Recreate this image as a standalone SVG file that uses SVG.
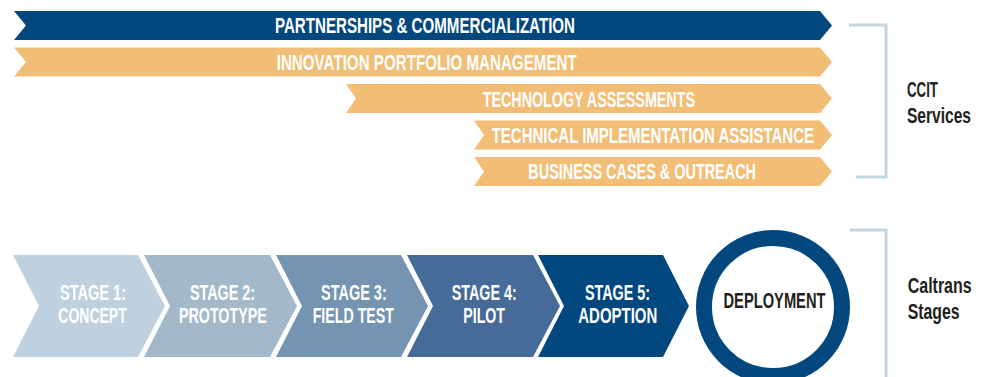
<svg xmlns="http://www.w3.org/2000/svg" width="989" height="377" viewBox="0 0 989 377">
<style>
.bt{font-family:"Liberation Sans",Arial,sans-serif;font-weight:bold;font-size:22px;fill:#ffffff;}
.lb{font-family:"Liberation Sans",Arial,sans-serif;font-weight:bold;font-size:22px;fill:#231f20;}
.br{fill:none;stroke:#c5d6e3;stroke-width:3;}
.or{fill:#f2bd75;}
</style>
<rect width="989" height="377" fill="#ffffff"/>
<g id="services">
<g id="banner-partnerships">
<polygon points="14,11 820,11 832,25.5 820,40 14,40 26,25.5" fill="#03477f"/>
<text class="bt" x="275" y="33.3" textLength="300" lengthAdjust="spacingAndGlyphs">PARTNERSHIPS &amp; COMMERCIALIZATION</text>
</g>
<g id="banner-portfolio">
<polygon class="or" points="14,47.5 820,47.5 832,62 820,76.5 14,76.5 26,62"/>
<text class="bt" x="276.7" y="69.8" textLength="300" lengthAdjust="spacingAndGlyphs">INNOVATION PORTFOLIO MANAGEMENT</text>
</g>
<g id="banner-assessments">
<polygon class="or" points="346,84 820,84 832,98.5 820,113 346,113 356,98.5"/>
<text class="bt" x="482.7" y="106.5" textLength="212.3" lengthAdjust="spacingAndGlyphs">TECHNOLOGY ASSESSMENTS</text>
</g>
<g id="banner-implementation">
<polygon class="or" points="474,120.5 820,120.5 832,135 820,149.5 474,149.5 484,135"/>
<text class="bt" x="491.7" y="143.1" textLength="322.3" lengthAdjust="spacingAndGlyphs">TECHNICAL IMPLEMENTATION ASSISTANCE</text>
</g>
<g id="banner-business">
<polygon class="or" points="474,157 820,157 832,171.5 820,186 474,186 484,171.5"/>
<text class="bt" x="528.3" y="179" textLength="227.7" lengthAdjust="spacingAndGlyphs">BUSINESS CASES &amp; OUTREACH</text>
</g>
</g>
<g id="stages">
<g id="stage1">
<polygon points="13,255 138,255 165,306 138,357 13,357 39,306" fill="#bfd1de"/>
<text class="bt" x="60" y="300" textLength="66" lengthAdjust="spacingAndGlyphs">STAGE 1:</text>
<text class="bt" x="58.3" y="323.3" textLength="68.4" lengthAdjust="spacingAndGlyphs">CONCEPT</text>
</g>
<g id="stage2">
<polygon points="144,255 270,255 297,306 270,357 144,357 170,306" fill="#a3b9c9"/>
<text class="bt" x="190" y="300" textLength="65" lengthAdjust="spacingAndGlyphs">STAGE 2:</text>
<text class="bt" x="179" y="323.3" textLength="87.7" lengthAdjust="spacingAndGlyphs">PROTOTYPE</text>
</g>
<g id="stage3">
<polygon points="276,255 401,255 428,306 401,357 276,357 302,306" fill="#7594b1"/>
<text class="bt" x="321" y="300" textLength="65.7" lengthAdjust="spacingAndGlyphs">STAGE 3:</text>
<text class="bt" x="312.7" y="323.3" textLength="81.3" lengthAdjust="spacingAndGlyphs">FIELD TEST</text>
</g>
<g id="stage4">
<polygon points="407,255 533,255 560,306 533,357 407,357 433,306" fill="#476b98"/>
<text class="bt" x="451.7" y="300" textLength="65" lengthAdjust="spacingAndGlyphs">STAGE 4:</text>
<text class="bt" x="463.3" y="323.3" textLength="41.7" lengthAdjust="spacingAndGlyphs">PILOT</text>
</g>
<g id="stage5">
<polygon points="538,255 663,255 689,306 663,357 538,357 564,306" fill="#03477f"/>
<text class="bt" x="585" y="300" textLength="65" lengthAdjust="spacingAndGlyphs">STAGE 5:</text>
<text class="bt" x="578.3" y="323.3" textLength="79" lengthAdjust="spacingAndGlyphs">ADOPTION</text>
</g>
<g id="deployment">
<circle cx="773" cy="307" r="69" fill="#ffffff" stroke="#03477f" stroke-width="16"/>
<text class="lb" x="723.5" y="308.3" textLength="102" lengthAdjust="spacingAndGlyphs">DEPLOYMENT</text>
</g>
</g>
<g id="brackets">
<polyline class="br" points="849,25 886,25 886,177 856,177"/>
<polyline class="br" points="850,230 886,230 886,377"/>
</g>
<g id="labels">
<text class="lb" transform="translate(907,97.3) scale(0.75,1)" x="0" y="0" textLength="41.3" lengthAdjust="spacingAndGlyphs">CCIT</text>
<text class="lb" transform="translate(907,123) scale(0.75,1)" x="0" y="0" textLength="85.3" lengthAdjust="spacingAndGlyphs">Services</text>
<text class="lb" transform="translate(907.7,293.3) scale(0.75,1)" x="0" y="0" textLength="85.3" lengthAdjust="spacingAndGlyphs">Caltrans</text>
<text class="lb" transform="translate(907.7,319) scale(0.75,1)" x="0" y="0" textLength="69.3" lengthAdjust="spacingAndGlyphs">Stages</text>
</g>
</svg>
